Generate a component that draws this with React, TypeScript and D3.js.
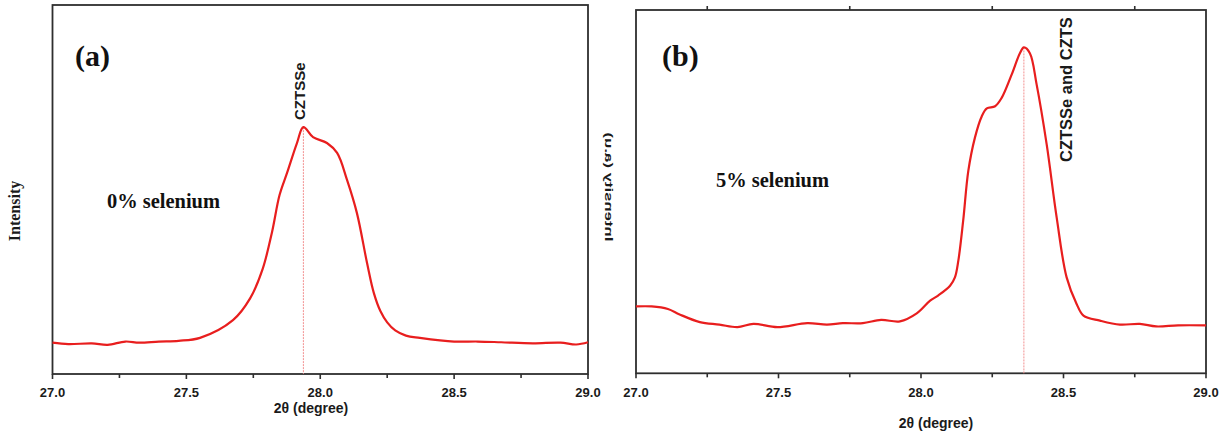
import * as d3 from 'd3'
import { useRef, useEffect } from 'react'

// panel (a): 0% selenium
const twoThetaA = [27.0, 27.059, 27.147, 27.206, 27.272, 27.324, 27.397, 27.471, 27.551, 27.674, 27.738, 27.785, 27.82, 27.848, 27.876, 27.913, 27.937, 27.973, 28.025, 28.063, 28.1, 28.137, 28.175, 28.2, 28.225, 28.25, 28.28, 28.32, 28.372, 28.5, 28.588, 28.676, 28.794, 28.897, 28.956, 29.0]
const intensityA = [8.5, 8.1, 8.3, 7.9, 8.8, 8.5, 8.8, 9.0, 9.8, 14.6, 20.5, 28.5, 38.5, 48.5, 54.5, 62.6, 66.9, 64.2, 62.6, 59.9, 52.6, 43.6, 30.0, 22.0, 17.0, 14.0, 11.8, 10.4, 9.8, 8.8, 8.8, 8.6, 8.3, 8.5, 8.0, 8.6]

// panel (b): 5% selenium
const twoThetaB = [27.0, 27.055, 27.112, 27.153, 27.224, 27.293, 27.356, 27.412, 27.496, 27.601, 27.67, 27.726, 27.796, 27.86, 27.926, 27.985, 28.032, 28.06, 28.102, 28.119, 28.131, 28.148, 28.166, 28.189, 28.213, 28.231, 28.26, 28.283, 28.318, 28.347, 28.361, 28.382, 28.406, 28.441, 28.476, 28.511, 28.546, 28.57, 28.628, 28.698, 28.768, 28.825, 28.902, 29.0]
const intensityB = [18.4, 18.4, 17.7, 16.2, 14.1, 13.4, 12.7, 13.6, 12.7, 13.8, 13.4, 13.8, 13.8, 14.7, 14.3, 16.5, 20.0, 21.4, 24.1, 26.4, 31.0, 42.0, 55.7, 64.8, 70.7, 72.9, 73.5, 75.8, 82.2, 88.1, 89.7, 88.1, 79.4, 63.0, 42.9, 26.4, 19.1, 15.9, 14.5, 13.4, 13.6, 12.9, 13.2, 13.2]

const majorTicks = [27.0, 27.5, 28.0, 28.5, 29.0]
const minorTicks = [27.25, 27.75, 28.25, 28.75]
const peakA = 27.937
const peakB = 28.361

const SANS = 'Liberation Sans, Arial, sans-serif'
const SERIF = 'Liberation Serif, Times New Roman, serif'
const RED = '#e81e1e'
const FRAME = '#2e2e2e'

function drawPanel(svg, p) {
    const x = d3.scaleLinear().domain([27, 29]).range([p.left, p.right])
    const y = d3.scaleLinear().domain([0, 100]).range([p.bottom, p.top])
    const g = svg.append('g')

    g.append('rect')
        .attr('x', p.left).attr('y', p.top)
        .attr('width', p.right - p.left).attr('height', p.bottom - p.top)
        .attr('fill', 'none').attr('stroke', FRAME).attr('stroke-width', 1.8)

    // bottom ticks, outward
    g.selectAll('.maj').data(majorTicks).enter().append('line')
        .attr('x1', d => x(d)).attr('x2', d => x(d))
        .attr('y1', p.bottom).attr('y2', p.bottom + 5)
        .attr('stroke', FRAME).attr('stroke-width', 1.6)
    g.selectAll('.min').data(minorTicks).enter().append('line')
        .attr('x1', d => x(d)).attr('x2', d => x(d))
        .attr('y1', p.bottom).attr('y2', p.bottom + 4)
        .attr('stroke', FRAME).attr('stroke-width', 1.6)
    if (p.topTicks) {
        g.selectAll('.tmin').data(minorTicks).enter().append('line')
            .attr('x1', d => x(d)).attr('x2', d => x(d))
            .attr('y1', p.top).attr('y2', p.top - 4)
            .attr('stroke', FRAME).attr('stroke-width', 1.6)
    }
    g.selectAll('.tl').data(majorTicks).enter().append('text')
        .attr('x', d => x(d)).attr('y', 397)
        .attr('text-anchor', 'middle')
        .attr('font-family', SANS).attr('font-weight', 'bold').attr('font-size', 13)
        .attr('fill', '#1a1a1a')
        .text(d => d3.format('.1f')(d))

    g.append('text')
        .attr('x', p.titleX).attr('y', p.titleY)
        .attr('text-anchor', 'middle')
        .attr('font-family', SANS).attr('font-weight', 'bold').attr('font-size', 14)
        .attr('fill', '#1a1a1a')
        .text('2θ (degree)')

    // peak marker
    g.append('line')
        .attr('x1', x(p.peak)).attr('x2', x(p.peak))
        .attr('y1', y(p.peakVal)).attr('y2', p.bottom)
        .attr('stroke', '#f29090').attr('stroke-width', 1)
        .attr('stroke-dasharray', '2,1')

    const line = d3.line()
        .x(d => x(d[0])).y(d => y(d[1]))
        .curve(d3.curveCatmullRom.alpha(0.5))
    g.append('path')
        .datum(p.xs.map((v, i) => [v, p.ys[i]]))
        .attr('d', line)
        .attr('fill', 'none').attr('stroke', RED).attr('stroke-width', 2.2)
        .attr('stroke-linejoin', 'round')

    g.append('text')
        .attr('x', p.tagX).attr('y', 66)
        .attr('font-family', SERIF).attr('font-weight', 'bold').attr('font-size', 30)
        .attr('fill', '#111')
        .text(p.tag)

    g.append('text')
        .attr('x', p.labelX).attr('y', p.labelY)
        .attr('font-family', SERIF).attr('font-weight', 'bold').attr('font-size', 21)
        .attr('textLength', 113).attr('lengthAdjust', 'spacingAndGlyphs')
        .attr('fill', '#111')
        .text(p.label)

    g.append('text')
        .attr('transform', `translate(${p.phaseX},${p.phaseY}) rotate(-90)`)
        .attr('font-family', SANS).attr('font-weight', 'bold').attr('font-size', p.phaseSize)
        .attr('fill', '#1a1a1a')
        .text(p.phase)
}

export default function App() {
    const svgRef = useRef()

    useEffect(() => {
        const svg = d3.select(svgRef.current)
        svg.selectAll('*').remove()

        svg.append('rect').attr('width', 1222).attr('height', 432).attr('fill', '#fff')

        drawPanel(svg, {
            left: 52.5, right: 588, top: 5, bottom: 374,
            xs: twoThetaA, ys: intensityA, peak: peakA, peakVal: 66.9,
            titleX: 311, titleY: 413, topTicks: false,
            tag: '(a)', tagX: 75,
            label: '0% selenium', labelX: 107, labelY: 208,
            phase: 'CZTSSe', phaseX: 305, phaseY: 120, phaseSize: 15
        })
        drawPanel(svg, {
            left: 636, right: 1206, top: 10, bottom: 373.3,
            xs: twoThetaB, ys: intensityB, peak: peakB, peakVal: 89.7,
            titleX: 936, titleY: 428, topTicks: true,
            tag: '(b)', tagX: 662,
            label: '5% selenium', labelX: 716, labelY: 187,
            phase: 'CZTSSe and CZTS', phaseX: 1072, phaseY: 162, phaseSize: 16.5
        })

        // y labels
        svg.append('text')
            .attr('transform', 'translate(20,211) rotate(-90)')
            .attr('text-anchor', 'middle')
            .attr('font-family', SERIF).attr('font-weight', 'bold').attr('font-size', 16)
            .attr('fill', '#1a1a1a')
            .text('Intensity')
        svg.append('text')
            .attr('transform', 'translate(608.5,187) rotate(-90) scale(1,-1)')
            .attr('text-anchor', 'middle').attr('dominant-baseline', 'central')
            .attr('font-family', SANS).attr('font-weight', 'bold').attr('font-size', 11)
            .attr('textLength', 109).attr('lengthAdjust', 'spacingAndGlyphs')
            .attr('fill', '#1a1a1a')
            .text('Intensity (a.u)')
    }, [])

    return (
        <div style={{ position: 'fixed', left: 0, top: 0 }}>
            <svg ref={svgRef} width={1222} height={432}></svg>
        </div>
    )
}
